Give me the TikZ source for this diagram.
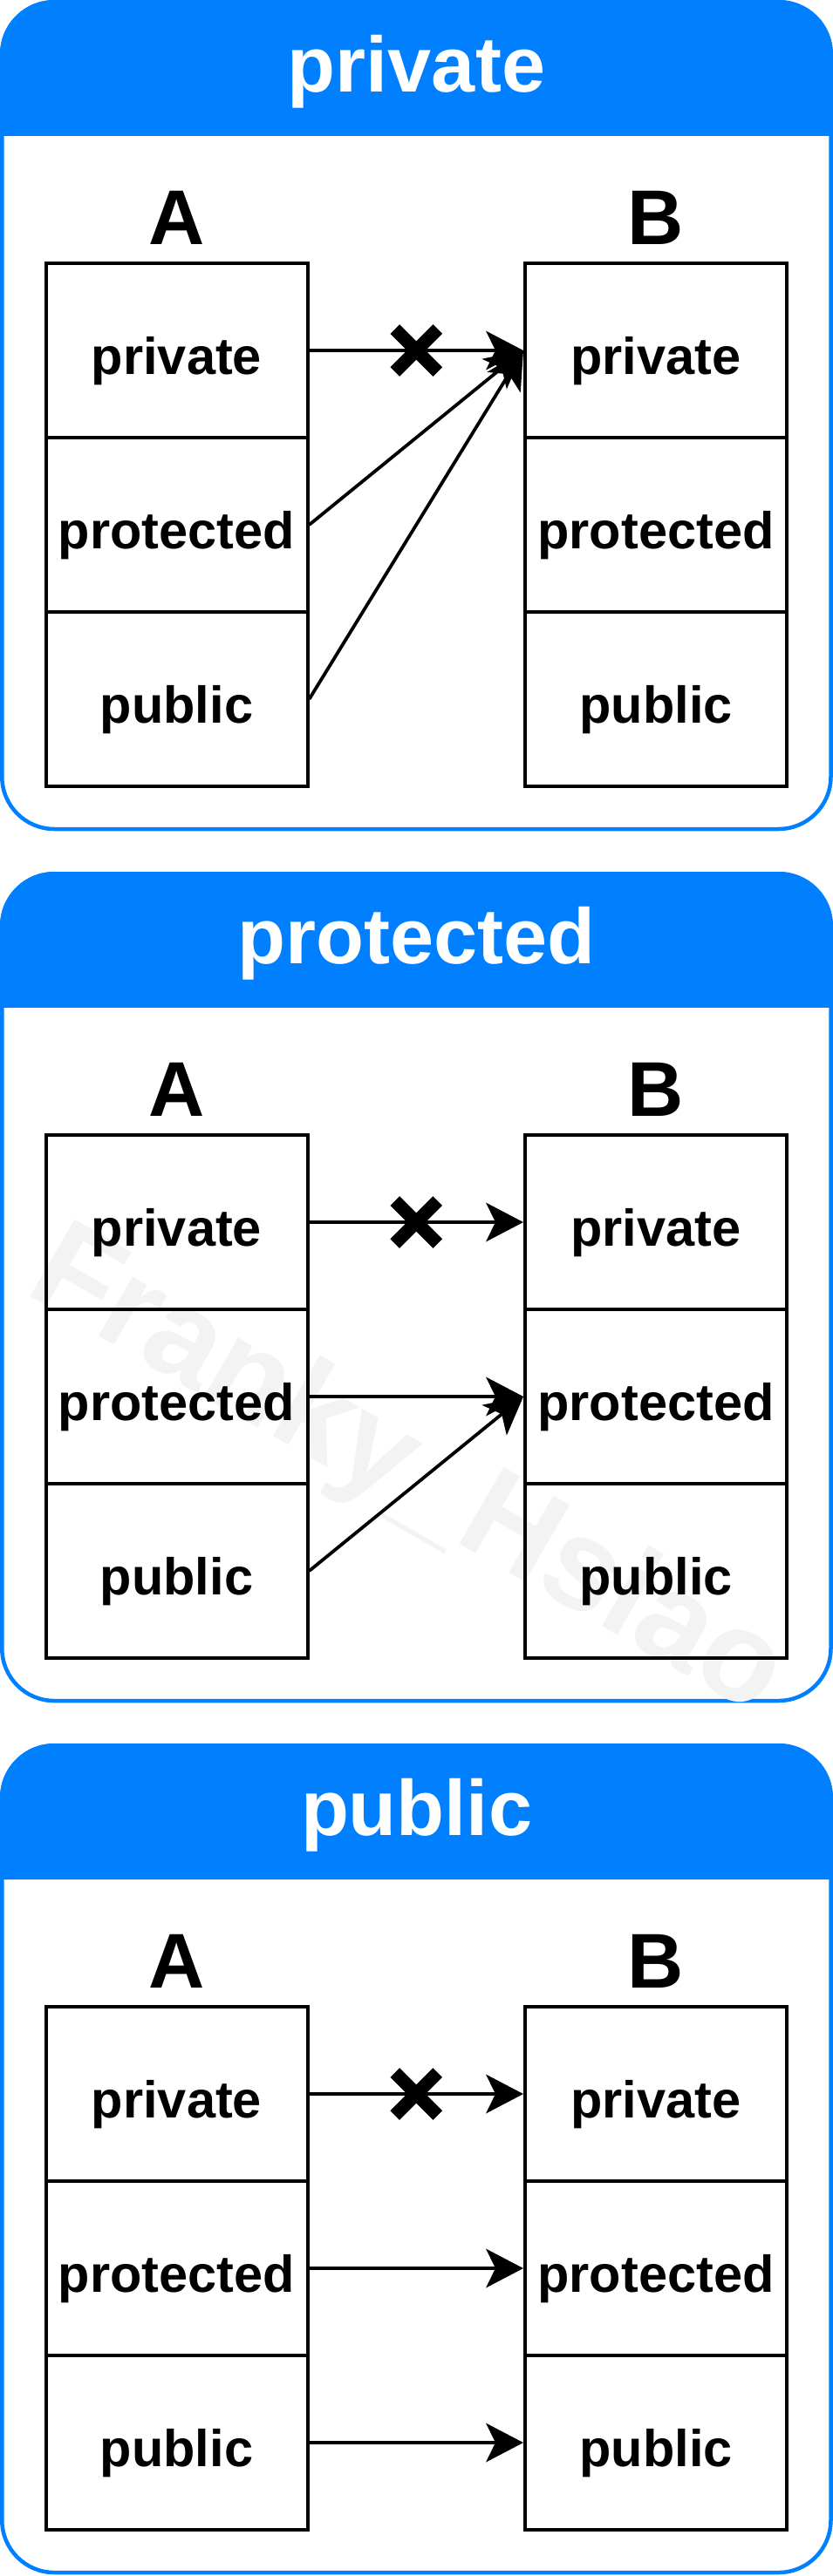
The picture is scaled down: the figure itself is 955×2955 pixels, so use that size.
\documentclass[tikz,border=0pt]{standalone}
\usepackage{fontspec}
\setmainfont{Liberation Sans}
\usetikzlibrary{arrows.meta}
\definecolor{laneblue}{HTML}{007FFF}
\definecolor{markgray}{HTML}{F3F3F3}
\tikzset{
  lanebox/.style={draw=laneblue, line width=4.5pt, fill=white, rounded corners=60pt},
  cellbox/.style={draw=black, line width=4pt, minimum width=300pt, minimum height=200pt,
    inner sep=0pt, font=\bfseries\fontsize{59.5}{62}\selectfont, text height=61pt, text depth=6pt},
  conn/.style={line width=3.8pt, -{Stealth[length=43pt, width=45pt, inset=11pt, line width=0pt]}},
  crossmark/.style={line width=15pt, line cap=butt},
  titletext/.style={text=white, font=\bfseries\fontsize{90}{92}\selectfont, anchor=base, inner sep=0pt},
  classname/.style={font=\bfseries\fontsize{89}{91}\selectfont, anchor=base, inner sep=0pt},
  watermark/.style={text=markgray, font=\bfseries\fontsize{148}{150}\selectfont, rotate=-30, inner sep=0pt},
}
\newcommand{\drawlane}[4]{%
  \begin{scope}[yshift=#3]
    \draw[lanebox] (2.3,2.3) rectangle (952.5,951);
    \begin{scope}
      \clip (0,0) rectangle (955,155);
      \fill[laneblue, rounded corners=62pt] (0,0) rectangle (955,953);
    \end{scope}
    #4
    \node[titletext] (#1title) at (477.5,105) {#2};
    \node[classname] (#1nameA) at (202.5,280) {A};
    \node[classname] (#1nameB) at (752,280) {B};
    \node[cellbox] (#1a1) at (202.5,402) {private};
    \node[cellbox] (#1a2) at (202.5,602) {protected};
    \node[cellbox] (#1a3) at (202.5,802) {public};
    \node[cellbox] (#1b1) at (752,402) {private};
    \node[cellbox] (#1b2) at (752,602) {protected};
    \node[cellbox] (#1b3) at (752,802) {public};
    \draw[conn] (#1a1.east) -- coordinate[midway] (#1x) (#1b1.west);
    \draw[crossmark] ([shift={(-24.5,-24.5)}]#1x) -- ([shift={(24.5,24.5)}]#1x);
    \draw[crossmark] ([shift={(-24.5,24.5)}]#1x) -- ([shift={(24.5,-24.5)}]#1x);
  \end{scope}}
\begin{document}
\begin{tikzpicture}[x=1pt,y=-1pt]
  \useasboundingbox (0,0) rectangle (955,2955);
  % private lane
  \drawlane{p}{private}{0pt}{}
  \draw[conn] (pa2.east) -- (pb1.west);
  \draw[conn] (pa3.east) -- (pb1.west);
  % protected lane
  \drawlane{q}{protected}{-1000pt}{\node[watermark] (qmark) at (466,692) {Franky\_Hsiao};}
  \draw[conn] (qa2.east) -- (qb2.west);
  \draw[conn] (qa3.east) -- (qb2.west);
  % public lane
  \drawlane{r}{public}{-2000pt}{}
  \draw[conn] (ra2.east) -- (rb2.west);
  \draw[conn] (ra3.east) -- (rb3.west);
\end{tikzpicture}
\end{document}
